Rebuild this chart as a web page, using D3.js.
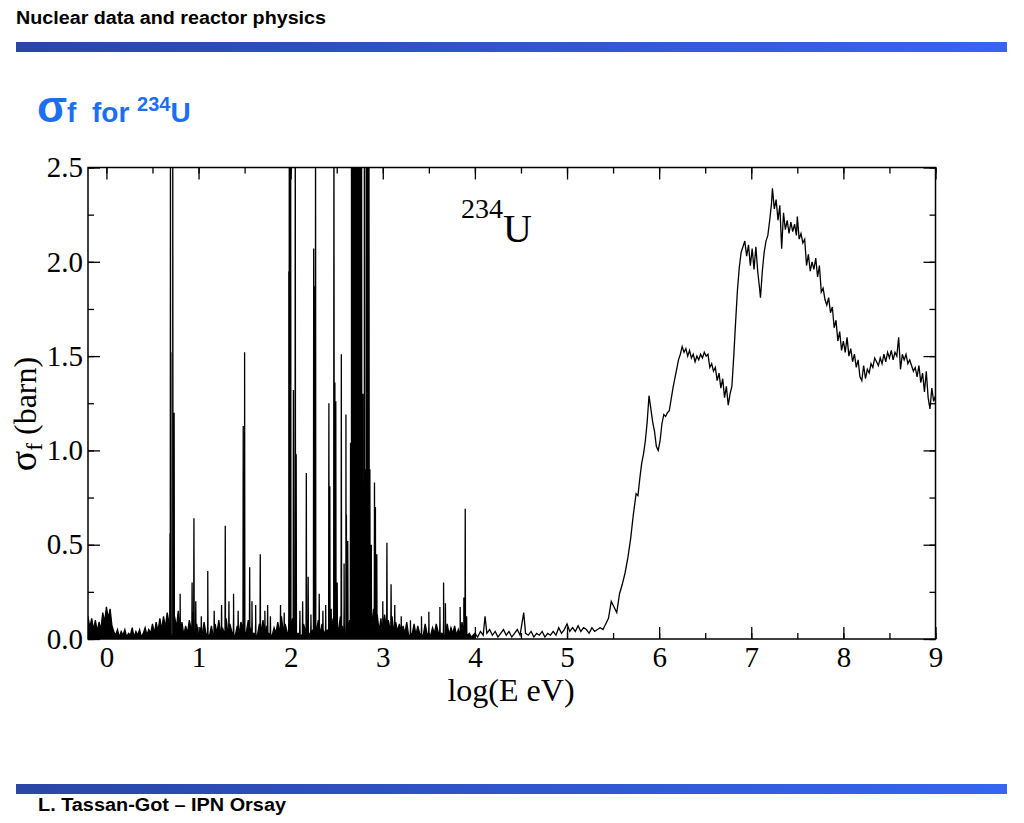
<!DOCTYPE html>
<html><head><meta charset="utf-8">
<script src="https://cdn.jsdelivr.net/npm/d3@7"></script>
<style>html,body{margin:0;padding:0;background:#fff;}svg{display:block;}</style>
</head><body>
<svg id="c" width="1024" height="823"></svg>
<script>
// ---------- DATA ----------
const xTicks = [0,1,2,3,4,5,6,7,8,9];
const yTicks = [0.0,0.5,1.0,1.5,2.0,2.5];
const yTickLabels = ["0.0","0.5","1.0","1.5","2.0","2.5"];
// resolved-resonance region: background level [logE, sigma]
const resBackground = [[-0.20,0.12],[-0.18,0.06],[-0.16,0.11],[-0.14,0.05],[-0.12,0.10],[-0.10,0.04],[-0.08,0.09],[-0.06,0.05],[-0.04,0.14],[-0.02,0.09],
[0.00,0.17],[0.02,0.11],[0.04,0.16],[0.06,0.07],[0.08,0.04],[0.10,0.02],[0.12,0.05],[0.14,0.01],[0.16,0.04],[0.18,0.02],
[0.20,0.05],[0.22,0.01],[0.24,0.03],[0.26,0.02],[0.28,0.06],[0.30,0.01],[0.32,0.04],[0.34,0.02],[0.36,0.05],[0.38,0.01],
[0.40,0.03],[0.42,0.06],[0.44,0.02],[0.46,0.05],[0.48,0.03],[0.50,0.08],[0.52,0.03],[0.54,0.09],[0.56,0.04],[0.58,0.11],
[0.60,0.05],[0.62,0.12],[0.64,0.06],[0.66,0.14],[0.68,0.08],[0.70,0.01],[0.72,0.02],[0.74,0.12],[0.76,0.06],[0.78,0.15],
[0.80,0.04],[0.82,0.09],[0.84,0.02],[0.86,0.07],[0.88,0.03],[0.90,0.10],[0.92,0.05],[0.94,0.14],[0.96,0.03],[0.98,0.08],
[1.00,0.01],[1.02,0.06],[1.04,0.02],[1.06,0.09],[1.08,0.03],[1.10,0.12],[1.12,0.02],[1.14,0.07],[1.16,0.01],[1.18,0.08],
[1.20,0.03],[1.22,0.10],[1.24,0.02],[1.26,0.06],[1.28,0.03],[1.30,0.11],[1.32,0.02],[1.34,0.08],[1.36,0.04],[1.38,0.12],
[1.40,0.02],[1.42,0.07],[1.44,0.03],[1.46,0.09],[1.48,0.05],[1.50,0.13],[1.52,0.04],[1.54,0.10],[1.56,0.06],[1.58,0.12],
[1.60,0.03],[1.62,0.09],[1.64,0.02],[1.66,0.08],[1.68,0.04],[1.70,0.10],[1.72,0.02],[1.74,0.07],[1.76,0.03],[1.78,0.11],
[1.80,0.02],[1.82,0.06],[1.84,0.03],[1.86,0.09],[1.88,0.04],[1.90,0.12],[1.92,0.03],[1.94,0.08],[1.96,0.04],[1.98,0.13],
[2.00,0.05],[2.02,0.11],[2.04,0.04],[2.06,0.09],[2.08,0.03],[2.10,0.12],[2.12,0.02],[2.14,0.08],[2.16,0.04],[2.18,0.10],
[2.20,0.03],[2.22,0.09],[2.24,0.05],[2.26,0.13],[2.28,0.04],[2.30,0.10],[2.32,0.03],[2.34,0.08],[2.36,0.04],[2.38,0.12],
[2.40,0.05],[2.42,0.14],[2.44,0.04],[2.46,0.11],[2.48,0.06],[2.50,0.15],[2.52,0.05],[2.54,0.12],[2.56,0.07],[2.58,0.18],
[2.60,0.08],[2.62,0.20],[2.64,0.10],[2.66,0.26],[2.68,0.12],[2.70,0.30],[2.72,0.14],[2.74,0.28],[2.76,0.16],[2.78,0.32],
[2.80,0.12],[2.82,0.27],[2.84,0.10],[2.86,0.22],[2.88,0.06],[2.90,0.16],[2.92,0.05],[2.94,0.13],[2.96,0.04],[2.98,0.11],
[3.00,0.06],[3.02,0.13],[3.04,0.04],[3.06,0.10],[3.08,0.05],[3.10,0.12],[3.12,0.03],[3.14,0.09],[3.16,0.04],[3.18,0.08],
[3.20,0.02],[3.22,0.07],[3.24,0.03],[3.26,0.09],[3.28,0.02],[3.30,0.06],[3.32,0.03],[3.34,0.08],[3.36,0.02],[3.38,0.07],
[3.40,0.03],[3.42,0.06],[3.44,0.02],[3.46,0.08],[3.48,0.03],[3.50,0.07],[3.52,0.02],[3.54,0.06],[3.56,0.03],[3.58,0.08],
[3.60,0.04],[3.62,0.09],[3.64,0.03],[3.66,0.10],[3.68,0.04],[3.70,0.08],[3.72,0.02],[3.74,0.06],[3.76,0.03],[3.78,0.07],
[3.80,0.02],[3.82,0.05],[3.84,0.03],[3.86,0.09],[3.88,0.04],[3.90,0.06],[3.92,0.02],[3.94,0.03],[3.96,0.01],[3.98,0.02]];
// resonance peaks [logE, peak sigma] (values above 2.5 are off-scale)
const resPeaks = [[0.69,0.56],[0.695,3.0],[0.70,1.52],[0.72,3.0],[0.735,1.2],[0.80,0.24],[0.93,0.30],[0.95,0.64],[0.97,0.20],
[1.03,0.12],[1.10,0.36],[1.17,0.15],[1.25,0.18],[1.29,0.60],[1.33,0.20],[1.38,0.24],[1.43,0.15],[1.485,1.13],[1.50,1.52],
[1.555,0.38],[1.58,0.20],[1.62,0.18],[1.67,0.45],[1.72,0.15],[1.75,0.18],[1.78,0.12],[1.89,0.18],[1.93,0.14],
[1.98,1.95],[1.985,3.0],[2.00,3.0],[2.03,1.32],[2.05,3.0],[2.06,0.98],[2.10,0.15],[2.13,0.20],[2.17,0.88],[2.19,0.33],
[2.22,0.13],[2.25,2.07],[2.265,1.87],[2.27,3.0],[2.31,0.24],[2.35,0.15],[2.38,0.18],[2.415,1.25],[2.425,0.81],[2.44,0.16],
[2.47,3.0],[2.48,1.36],[2.49,1.26],[2.505,0.30],[2.55,1.51],[2.58,0.40],[2.60,1.19],[2.605,0.66],[2.62,0.52],[2.65,1.04],
[2.655,0.70],[2.66,3.0],[2.665,1.50],[2.675,3.0],[2.69,3.0],[2.695,0.80],[2.70,3.0],[2.71,3.0],[2.715,1.0],[2.72,3.0],
[2.73,3.0],[2.74,0.60],[2.745,3.0],[2.755,1.40],[2.76,3.0],[2.77,3.0],[2.785,1.30],[2.79,0.60],[2.80,3.0],[2.81,0.90],
[2.82,3.0],[2.835,3.0],[2.845,0.70],[2.85,3.0],[2.86,0.90],[2.875,0.50],[2.91,0.83],[2.92,0.70],[2.935,0.45],[3.00,0.20],
[3.045,0.51],[3.09,0.29],[3.13,0.18],[3.20,0.12],[3.30,0.10],[3.42,0.12],[3.50,0.145],[3.62,0.17],[3.66,0.30],[3.68,0.19],
[3.84,0.17],[3.88,0.22],[3.895,0.69],[3.91,0.12]];
// unresolved / fast region [logE, sigma]
const fastRegion = [[4.00,0.03],[4.03,0.01],[4.06,0.04],[4.09,0.02],[4.11,0.12],[4.13,0.03],[4.16,0.05],[4.19,0.02],[4.22,0.04],[4.25,0.01],
[4.28,0.03],[4.31,0.05],[4.34,0.02],[4.37,0.04],[4.40,0.01],[4.43,0.03],[4.46,0.05],[4.49,0.02],[4.53,0.14],[4.55,0.03],
[4.58,0.02],[4.61,0.04],[4.64,0.01],[4.67,0.03],[4.70,0.02],[4.73,0.04],[4.76,0.01],[4.79,0.03],[4.82,0.02],[4.85,0.04],
[4.88,0.02],[4.91,0.06],[4.94,0.03],[4.97,0.05],[5.00,0.08],[5.03,0.04],[5.06,0.06],[5.09,0.04],[5.12,0.07],[5.15,0.04],
[5.18,0.06],[5.21,0.05],[5.24,0.03],[5.27,0.06],[5.30,0.04],[5.33,0.05],[5.36,0.06],[5.39,0.05],[5.42,0.08],[5.45,0.11],
[5.48,0.20],[5.51,0.17],[5.54,0.14],[5.57,0.24],[5.60,0.29],[5.63,0.35],[5.66,0.43],[5.69,0.53],[5.72,0.66],[5.75,0.77],
[5.77,0.76],[5.79,0.85],[5.81,0.93],[5.83,0.98],[5.85,1.05],[5.87,1.15],[5.89,1.29],[5.91,1.22],[5.93,1.15],[5.95,1.10],
[5.97,1.02],[5.99,1.00],[6.01,1.05],[6.03,1.14],[6.05,1.19],[6.07,1.18],[6.09,1.20],[6.11,1.21],[6.13,1.27],[6.15,1.33],
[6.17,1.38],[6.19,1.43],[6.21,1.48],[6.23,1.51],[6.25,1.55],[6.27,1.52],[6.29,1.54],[6.31,1.50],[6.33,1.53],[6.35,1.49],
[6.37,1.51],[6.39,1.47],[6.41,1.50],[6.43,1.48],[6.45,1.51],[6.47,1.49],[6.49,1.52],[6.51,1.50],[6.53,1.51],[6.55,1.44],
[6.57,1.46],[6.59,1.42],[6.61,1.44],[6.63,1.37],[6.65,1.41],[6.67,1.33],[6.69,1.38],[6.71,1.28],[6.73,1.34],[6.75,1.24],
[6.77,1.30],[6.79,1.34],[6.81,1.50],[6.83,1.68],[6.85,1.85],[6.87,1.97],[6.89,2.05],[6.91,2.08],[6.93,2.11],[6.95,2.03],
[6.97,2.09],[6.99,1.98],[7.01,2.07],[7.03,1.96],[7.05,2.08],[7.07,1.95],[7.09,1.86],[7.10,1.81],[7.12,1.95],[7.14,2.05],
[7.16,2.11],[7.18,2.14],[7.20,2.22],[7.22,2.31],[7.23,2.39],[7.25,2.28],[7.27,2.33],[7.29,2.22],[7.31,2.30],[7.33,2.07],
[7.35,2.26],[7.37,2.17],[7.39,2.22],[7.41,2.15],[7.43,2.21],[7.45,2.16],[7.47,2.20],[7.49,2.14],[7.50,2.24],[7.52,2.12],
[7.54,2.15],[7.56,2.10],[7.58,2.12],[7.60,1.98],[7.62,2.04],[7.64,1.95],[7.66,2.00],[7.68,1.96],[7.70,2.02],[7.72,1.92],
[7.74,1.98],[7.76,1.84],[7.78,1.86],[7.80,1.80],[7.82,1.77],[7.84,1.81],[7.86,1.73],[7.88,1.76],[7.90,1.65],[7.92,1.69],
[7.94,1.58],[7.96,1.63],[7.98,1.53],[8.00,1.58],[8.02,1.52],[8.04,1.60],[8.06,1.50],[8.08,1.54],[8.10,1.47],[8.12,1.51],
[8.14,1.44],[8.16,1.48],[8.18,1.39],[8.20,1.37],[8.22,1.45],[8.24,1.38],[8.26,1.43],[8.28,1.41],[8.30,1.46],[8.32,1.44],
[8.34,1.49],[8.36,1.47],[8.38,1.45],[8.40,1.49],[8.42,1.46],[8.44,1.51],[8.46,1.47],[8.48,1.52],[8.50,1.49],[8.52,1.53],
[8.54,1.48],[8.56,1.52],[8.58,1.50],[8.60,1.60],[8.62,1.43],[8.64,1.51],[8.66,1.48],[8.68,1.51],[8.70,1.46],[8.72,1.48],
[8.74,1.45],[8.76,1.42],[8.78,1.44],[8.80,1.39],[8.82,1.45],[8.84,1.36],[8.86,1.41],[8.88,1.31],[8.90,1.42],[8.92,1.28],
[8.94,1.22],[8.96,1.33],[8.98,1.26],[9.00,1.29]];

// ---------- LAYOUT ----------
const svg = d3.select("#c");
const plot = {l: 88, r: 935.5, t: 167.5, b: 639};
const x = d3.scaleLinear().domain([-0.2, 9]).range([plot.l, plot.r]);
const y = d3.scaleLinear().domain([0, 2.5]).range([plot.b, plot.t]);

// header / footer
const defs = svg.append("defs");
const grad = defs.append("linearGradient").attr("id","bar").attr("x1","0").attr("x2","1");
grad.append("stop").attr("offset","0").attr("stop-color","#2a46a6");
grad.append("stop").attr("offset","1").attr("stop-color","#3566f0");
svg.append("rect").attr("x",16).attr("y",42).attr("width",991).attr("height",10).attr("fill","url(#bar)");
svg.append("rect").attr("x",16).attr("y",784).attr("width",991).attr("height",10).attr("fill","url(#bar)");
svg.append("text").attr("x",16).attr("y",24).attr("font-family","Liberation Sans, Arial, sans-serif")
  .attr("font-weight","bold").attr("font-size",18).attr("textLength",310).attr("lengthAdjust","spacingAndGlyphs")
  .attr("fill","#000").text("Nuclear data and reactor physics");
svg.append("text").attr("x",38).attr("y",811).attr("font-family","Liberation Sans, Arial, sans-serif")
  .attr("font-weight","bold").attr("font-size",18).attr("textLength",248).attr("lengthAdjust","spacingAndGlyphs")
  .attr("fill","#000").text("L. Tassan-Got \u2013 IPN Orsay");

// slide title
const title = svg.append("text").attr("x",37).attr("y",122).attr("font-family","Liberation Sans, Arial, sans-serif")
  .attr("font-weight","bold").attr("fill","#1d6ff2");
title.append("tspan").attr("font-size",44).text("\u03c3");
title.append("tspan").attr("font-size",28).text("f\u00a0\u00a0for\u00a0");
title.append("tspan").attr("font-size",20).attr("dy",-11).text("234");
title.append("tspan").attr("font-size",28).attr("dy",11).text("U");

// clip
defs.append("clipPath").attr("id","clip").append("rect")
  .attr("x",plot.l).attr("y",plot.t).attr("width",plot.r-plot.l).attr("height",plot.b-plot.t);

// build series
const spikeHalf = 0.003;
let resPts = resBackground.map(d => ({x:d[0], y:d[1]}));
resPeaks.forEach(p => {
  resPts.push({x:p[0]-spikeHalf, y:0.02});
  resPts.push({x:p[0], y:p[1]});
  resPts.push({x:p[0]+spikeHalf, y:0.02});
});
resPts.sort((a,b)=>a.x-b.x);
const fastPts = fastRegion.map(d => ({x:d[0], y:d[1]}));
const allPts = resPts.concat(fastPts);

const gData = svg.append("g").attr("clip-path","url(#clip)");
// dense resonance region renders as a filled band under the trace
const area = d3.area().x(d=>x(d.x)).y0(y(0)).y1(d=>y(d.y));
gData.append("path").datum(resPts.concat([fastPts[0]])).attr("d",area).attr("fill","#000");
const line = d3.line().x(d=>x(d.x)).y(d=>y(d.y));
gData.append("path").datum(allPts).attr("d",line).attr("fill","none").attr("stroke","#000")
  .attr("stroke-width",1.3).attr("stroke-linejoin","miter");

// axes: ticks inward on all sides
const serif = "Liberation Serif, Times New Roman, serif";
const gAx = svg.append("g");
const xMinor = d3.range(0, 9.01, 0.5);
const yMinor = d3.range(0, 2.51, 0.25);
const axB = d3.axisBottom(x).tickValues(xMinor).tickSize(-6).tickFormat("");
const axT = d3.axisTop(x).tickValues(xMinor).tickSize(-6).tickFormat("");
const axL = d3.axisLeft(y).tickValues(yMinor).tickSize(-6).tickFormat("");
const axR = d3.axisRight(y).tickValues(yMinor).tickSize(-6).tickFormat("");
const axBMaj = d3.axisBottom(x).tickValues(xTicks).tickSize(-12).tickPadding(20).tickFormat(d3.format("d"));
const axTMaj = d3.axisTop(x).tickValues(xTicks).tickSize(-12).tickFormat("");
const axLMaj = d3.axisLeft(y).tickValues(yTicks).tickSize(-12).tickPadding(17).tickFormat((d,i)=>yTickLabels[i]);
const axRMaj = d3.axisRight(y).tickValues(yTicks).tickSize(-12).tickFormat("");
function place(ax, tr){ const g = gAx.append("g").attr("transform",tr).call(ax); g.select(".domain").remove();
  g.selectAll("line").attr("stroke","#000").attr("stroke-width",1.3); return g; }
place(axB, `translate(0,${plot.b})`);
place(axT, `translate(0,${plot.t})`);
place(axL, `translate(${plot.l},0)`);
place(axR, `translate(${plot.r},0)`);
const gb = place(axBMaj, `translate(0,${plot.b})`);
place(axTMaj, `translate(0,${plot.t})`);
const gl = place(axLMaj, `translate(${plot.l},0)`);
place(axRMaj, `translate(${plot.r},0)`);
gb.selectAll("text").attr("font-family",serif).attr("font-size",29).attr("fill","#000").attr("dy","0.71em").attr("y",7);
gl.selectAll("text").attr("font-family",serif).attr("font-size",29).attr("fill","#000").attr("x",-5);

svg.append("rect").attr("x",plot.l).attr("y",plot.t).attr("width",plot.r-plot.l).attr("height",plot.b-plot.t)
  .attr("fill","none").attr("stroke","#000").attr("stroke-width",1.5);

// axis titles
svg.append("text").attr("x",511).attr("y",701).attr("text-anchor","middle").attr("font-family",serif)
  .attr("font-size",32).attr("fill","#000").text("log(E eV)");
const yl = svg.append("text").attr("transform","translate(36,414) rotate(-90)").attr("text-anchor","middle")
  .attr("font-family",serif).attr("font-size",32).attr("fill","#000");
yl.append("tspan").attr("font-size",38).text("\u03c3");
yl.append("tspan").attr("font-size",23).attr("dy",6).text("f");
yl.append("tspan").attr("dy",-6).text("\u00a0(barn)");

// isotope label
const iso = svg.append("text").attr("x",461).attr("y",242).attr("font-family",serif).attr("fill","#000");
iso.append("tspan").attr("font-size",28).attr("dy",-24).text("234");
iso.append("tspan").attr("font-size",40).attr("dy",24).text("U");
</script>
</body></html>
